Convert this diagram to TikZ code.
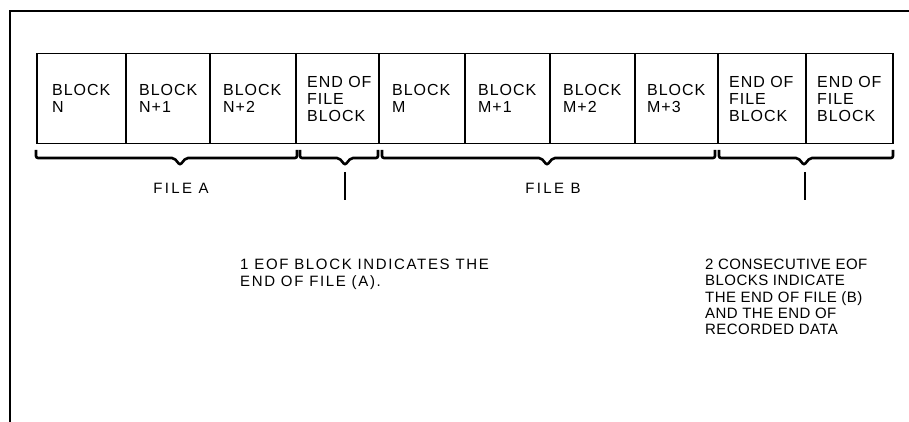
\documentclass[tikz,border=0pt]{standalone}
\usepackage{fontspec}
\setmainfont{Liberation Sans}
\newfontfamily\boxfont[LetterSpace=6]{Liberation Sans}
\newfontfamily\notefontA[LetterSpace=11]{Liberation Sans}
\newfontfamily\notefontB[LetterSpace=3]{Liberation Sans}
\newfontfamily\labelfont[LetterSpace=16]{Liberation Sans}
\begin{document}
\begin{tikzpicture}[x=1pt,y=-1pt,
  frame/.style={line width=1.2pt},
  box/.style={draw, line width=1.5pt, minimum height=90pt, inner sep=0pt, anchor=north west},
  btext/.style={inner sep=0pt, align=left, anchor=west, xshift=14pt, font=\boxfont\fontsize{16}{17}\selectfont},
  brace/.style={line width=2.6pt, rounded corners=2pt},
  tick/.style={line width=1.5pt},
  lbl/.style={inner sep=0pt, font=\labelfont\fontsize{15}{16.5}\selectfont},
  note/.style={inner sep=0pt, align=left, anchor=north west}]
\useasboundingbox (0,0) rectangle (909,422);
\draw[frame] (909,11) -- (10,11) -- (10,422);
% blocks
\node[box, minimum width=89pt] (b1) at (36,53) {};
\node[box, minimum width=84pt] (b2) at (125,53) {};
\node[box, minimum width=86pt] (b3) at (209,53) {};
\node[box, minimum width=83pt] (b4) at (295,53) {};
\node[box, minimum width=86pt] (b5) at (378,53) {};
\node[box, minimum width=85pt] (b6) at (464,53) {};
\node[box, minimum width=85pt] (b7) at (549,53) {};
\node[box, minimum width=83pt] (b8) at (634,53) {};
\node[box, minimum width=88pt] (b9) at (717,53) {};
\node[box, minimum width=87pt] (b10) at (805,53) {};
\node[btext, xshift=2pt] (l1) at (b1.west) {BLOCK\\N};
\node[btext] (l2) at (b2.west) {BLOCK\\N+1};
\node[btext] (l3) at (b3.west) {BLOCK\\N+2};
\node[btext, xshift=-2pt] (l4) at (b4.west) {END OF\\FILE\\BLOCK};
\node[btext] (l5) at (b5.west) {BLOCK\\M};
\node[btext] (l6) at (b6.west) {BLOCK\\M+1};
\node[btext] (l7) at (b7.west) {BLOCK\\M+2};
\node[btext, xshift=-1pt] (l8) at (b8.west) {BLOCK\\M+3};
\node[btext, xshift=-2pt] (l9) at (b9.west) {END OF\\FILE\\BLOCK};
\node[btext, xshift=-2pt] (l10) at (b10.west) {END OF\\FILE\\BLOCK};
% braces
\draw[brace] (36,150) -- (36,158) -- (174,158) -- (180,165) -- (186,158) -- (297,158) -- (297,150);
\draw[brace] (300,150) -- (300,158) -- (339,158) -- (345,165) -- (351,158) -- (378,158) -- (378,150);
\draw[brace] (382,150) -- (382,158) -- (541,158) -- (547,165) -- (553,158) -- (715,158) -- (715,150);
\draw[brace] (719,150) -- (719,158) -- (798,158) -- (804,165) -- (810,158) -- (893,158) -- (893,150);
% ticks
\coordinate (t1) at (345,172);
\coordinate (t1e) at (345,200);
\coordinate (t2) at (805,172);
\coordinate (t2e) at (805,200);
\draw[tick] (t1) -- (t1e);
\draw[tick] (t2) -- (t2e);
% labels
\node[lbl] (fa) at (181,188) {FILE A};
\node[lbl] (fb) at (553,188) {FILE B};
\node[note, font=\notefontA\fontsize{15}{16.5}\selectfont] (n1) at (240,259) {1 EOF BLOCK INDICATES THE\\END OF FILE (A).};
\node[note, font=\notefontB\fontsize{15}{16.2}\selectfont] (n2) at (705,259) {2 CONSECUTIVE EOF\\BLOCKS INDICATE\\THE END OF FILE (B)\\AND THE END OF\\RECORDED DATA};
\end{tikzpicture}
\end{document}
